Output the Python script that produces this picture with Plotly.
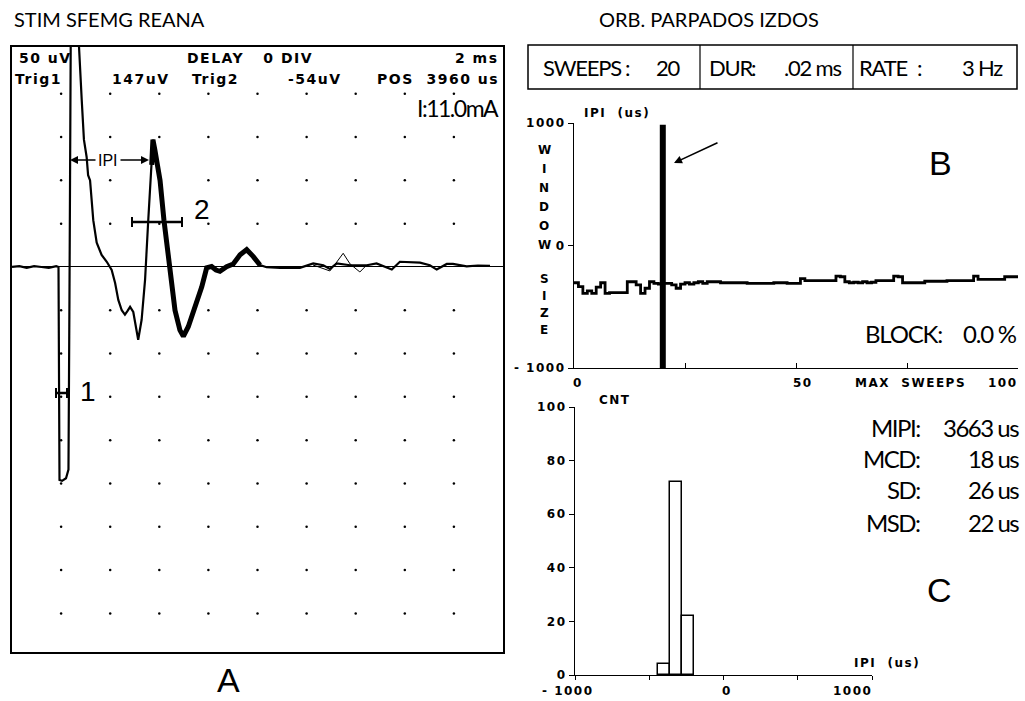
import plotly.graph_objects as go

W, H = 1025, 701

# ---------------- Panel A : superimposed SFEMG sweeps ----------------
a_time_ms = [0.0, 0.3, 0.6, 0.9, 1.2, 1.5, 1.8, 1.894, 1.935, 2.04, 2.20, 2.30, 2.34, 2.36, 2.42, 2.53, 2.62,
             2.73, 2.84, 2.93, 3.04, 3.10, 3.18, 3.31, 3.45, 3.65, 3.86, 4.06, 4.20, 4.33, 4.47, 4.60,
             4.70, 4.81, 4.94, 5.08, 5.14, 5.28, 5.42, 5.55, 5.69, 5.74, 5.82, 6.03, 6.19, 6.37,
             6.50, 6.64, 6.84, 6.98, 7.18, 7.45, 7.73, 7.93, 8.13, 8.31, 8.47, 8.74, 9.01, 9.29,
             9.56, 9.83, 10.10, 10.37, 10.92, 11.73, 12.27, 12.68, 12.95, 13.23, 13.77, 14.45,
             14.85, 15.47, 15.80, 16.62, 17.02, 17.30, 17.71, 17.96, 18.52, 18.98, 19.47]
a_uv = [0, 1, -1, 1, 0, -1, 1, 0, -246, -247, -244, -234, -38, 254, 420, 500, 400,
        254, 193, 147, 127, 106, 100, 54, 28, 14, 6, -3.5, -18.5, -38, -50, -55,
        -51, -46, -52, -73, -84, -61, -15, 54, 118, 147, 135, 100, 54, 12,
        -15, -50, -73, -80, -69, -46, -23, -1, 0.6, -3.5, -5, 0.3, 3.5, 14,
        20, 12, 2.3, -0.3, -1, -1, 4, 2, -2.3, 4, 2, 2,
        4, -3, 6, 5, 2, -3, 3.5, 3.5, 0.6, 1.7, 1.2]
# single outlying sweep (thin line)
a_thin_time = [12.26, 12.95, 13.20, 13.49, 13.77, 14.17, 14.45]
a_thin_uv = [2.3, -4.6, 4.6, 15.8, 3.5, -5.8, 2.3]
# dotted graticule (2 ms/div, 50 uV/div)
grid_x_ms = [2, 4, 6, 8, 10, 12, 14, 16, 18]
grid_y_uv = [200, 150, 100, 50, -50, -100, -150, -200, -250, -300, -350, -400]

# ---------------- Panel B : window position per sweep ----------------
b_ipi_us = [-304, -335, -390, -370, -390, -340, -304, -390, -385, -385,
            -385, -385, -296, -296, -322, -390, -349, -296, -309, -315,
            -309, -309, -322, -349, -315, -304, -315, -304, -296, -309,
            -296, -296, -296, -304, -304, -304, -304, -304, -304, -309,
            -309, -309, -309, -309, -309, -304, -304, -304, -309, -309,
            -309, -270, -287, -287, -287, -287, -287, -287, -287, -250,
            -255, -296, -304, -300, -304, -296, -304, -300, -287, -287,
            -287, -287, -250, -255, -304, -304, -304, -304, -304, -292,
            -292, -292, -292, -292, -287, -287, -287, -287, -287, -287,
            -250, -276, -276, -276, -276, -276, -276, -255, -255, -255]
b_marker_sweep = 20
b_yticks = [-1000, 0, 1000]
b_ylabels = ["- 1000", "0", "1000"]
b_xticks = [0, 25, 50, 75, 100]

# ---------------- Panel C : IPI histogram ----------------
c_bin_center_us = [-400, -320, -240]
c_count = [4, 72, 22]
c_bin_width_us = 80
c_yticks = [0, 20, 40, 60, 80, 100]
c_xticks = [-1000, -500, 0, 500, 1000]


def px(x):
    return x / W


def py(y):
    return 1 - y / H


NARROW = "Lato, Roboto, sans-serif"
PIXEL = "DejaVu Sans"
SANS = "Liberation Sans, Arial, sans-serif"


def sp(s, ls):
    return '<span style="letter-spacing:%.1fpx">%s</span>' % (ls, s)


fig = go.Figure()

# Panel A traces
fig.add_trace(go.Scatter(x=[gx for gx in grid_x_ms for _ in grid_y_uv],
                         y=[gy for _ in grid_x_ms for gy in grid_y_uv],
                         mode="markers", marker=dict(size=2.5, color="black"),
                         xaxis="x", yaxis="y", hoverinfo="skip"))
fig.add_trace(go.Scatter(x=a_time_ms, y=a_uv, mode="lines",
                         line=dict(color="black", width=2.2), xaxis="x", yaxis="y"))
fig.add_trace(go.Scatter(x=a_time_ms[40:63], y=a_uv[40:63], mode="lines",
                         line=dict(color="black", width=5), xaxis="x", yaxis="y"))
fig.add_trace(go.Scatter(x=a_thin_time, y=a_thin_uv, mode="lines",
                         line=dict(color="black", width=1), xaxis="x", yaxis="y"))

# Panel B traces
fig.add_trace(go.Scatter(x=list(range(len(b_ipi_us) + 1)), y=b_ipi_us + [b_ipi_us[-1]],
                         mode="lines", line=dict(color="black", width=2.8, shape="hv"),
                         xaxis="x2", yaxis="y2"))
fig.add_trace(go.Scatter(x=[b_marker_sweep, b_marker_sweep], y=[-1000, 985], mode="lines",
                         line=dict(color="black", width=6), xaxis="x2", yaxis="y2"))

# Panel C histogram
fig.add_trace(go.Bar(x=c_bin_center_us, y=c_count, width=c_bin_width_us,
                     marker=dict(color="white", line=dict(color="black", width=1.5)),
                     xaxis="x3", yaxis="y3"))

tickfont = dict(family=PIXEL, size=12, color="black", weight="bold")
common = dict(showgrid=False, zeroline=False, automargin=False, tickcolor="black",
              linecolor="black", showline=True)

fig.update_layout(
    width=W, height=H, margin=dict(l=0, r=0, t=0, b=0, autoexpand=False),
    paper_bgcolor="white", plot_bgcolor="white", showlegend=False,
    xaxis=dict(domain=[px(12), px(503)], range=[0, 20], showticklabels=False, ticks="",
               mirror=True, linewidth=1.5, **common),
    yaxis=dict(domain=[py(652), py(47)], range=[-444.6, 254], showgrid=False,
               zeroline=True, zerolinecolor="black", zerolinewidth=1, automargin=False,
               showticklabels=False, ticks="", showline=True, mirror=True,
               linecolor="black", linewidth=1.5),
    xaxis2=dict(domain=[px(574), px(1018)], range=[0, 100], tickvals=b_xticks,
                showticklabels=False, ticks="inside", ticklen=5, linewidth=1.2,
                anchor="y2", **common),
    yaxis2=dict(domain=[py(368), py(123)], range=[-1000, 1000], tickvals=b_yticks,
                ticktext=[sp(t, 1.5) for t in b_ylabels], ticks="outside", ticklen=5,
                linewidth=1.2, tickfont=tickfont, anchor="x2", **common),
    xaxis3=dict(domain=[px(575), px(872)], range=[-1000, 1000], tickvals=c_xticks,
                showticklabels=False, ticks="outside", ticklen=4, linewidth=1.2,
                anchor="y3", **common),
    yaxis3=dict(domain=[py(675), py(407)], range=[0, 100], tickvals=c_yticks,
                ticktext=[sp(str(t), 1.5) for t in c_yticks], ticks="outside", ticklen=5,
                linewidth=1.2, tickfont=tickfont, anchor="x3", **common),
    bargap=0,
)

shapes = []
# header table on the right
shapes.append(dict(type="rect", xref="paper", yref="paper", x0=px(528), x1=px(1017),
                   y0=py(89), y1=py(45), line=dict(color="black", width=1.5)))
for xd in (700, 853):
    shapes.append(dict(type="line", xref="paper", yref="paper", x0=px(xd), x1=px(xd),
                       y0=py(89), y1=py(45), line=dict(color="black", width=1.2)))


# "1" and "2" latency markers in panel A (horizontal bars with end ticks)
def hbar(x0, x1, yc):
    out = [dict(type="line", xref="paper", yref="paper", x0=px(x0), x1=px(x1), y0=py(yc), y1=py(yc),
                line=dict(color="black", width=2.5))]
    for xx in (x0, x1):
        out.append(dict(type="line", xref="paper", yref="paper", x0=px(xx), x1=px(xx),
                        y0=py(yc - 5), y1=py(yc + 5), line=dict(color="black", width=2)))
    return out


shapes += hbar(56, 67, 393)
shapes += hbar(132, 182, 222)
fig.update_layout(shapes=shapes)

ann = []


def T(x, y, text, size, family, anchor="left", weight="normal", yanchor="middle"):
    ann.append(dict(x=px(x), y=py(y), xref="paper", yref="paper", text=text, showarrow=False,
                    xanchor=anchor, yanchor=yanchor,
                    font=dict(size=size, family=family, color="black", weight=weight)))


def arrow(hx, hy, tx, ty):
    ann.append(dict(x=px(hx), y=py(hy), ax=tx - hx, ay=ty - hy, xref="paper", yref="paper",
                    axref="pixel", ayref="pixel", text="", showarrow=True, arrowhead=2,
                    arrowsize=1, arrowwidth=1.6, arrowcolor="black"))


def P(x, y, text, anchor="left", size=14, ls=1.5):
    T(x, y, sp(text, ls), size, PIXEL, anchor=anchor, weight="bold")


def N(x, y, text, anchor="left", size=22, ls=-1.2):
    T(x, y, sp(text, ls), size, NARROW, anchor=anchor)


N(12, 19, "STIM SFEMG REANA", size=20, ls=0)
N(709, 19, "ORB. PARPADOS IZDOS", anchor="center", size=20, ls=0)

# Panel A header
P(17, 58, "50 uV")
P(250, 58, "DELAY   0 DIV", anchor="center")
P(501, 58, "2 ms", anchor="right")
P(13, 79, "Trig1")
P(110, 79, "147uV")
P(190, 79, "Trig2")
P(286, 79, "-54uV")
P(501, 79, "POS  3960 us", anchor="right")
N(501, 108, "I:11.0mA", anchor="right", size=23, ls=-1.5)

T(108, 160, "IPI", 16, SANS, anchor="center")
T(88, 391, "1", 28, SANS, anchor="center")
T(202, 209, "2", 28, SANS, anchor="center")
T(228, 701, "A", 34, SANS, anchor="center", yanchor="bottom")

# IPI arrows
arrow(70, 160, 97, 160)
arrow(149, 160, 119, 160)

# header table text
N(541, 67, "SWEEPS")
N(628, 67, ":", anchor="center", ls=0)
N(683, 67, "20", anchor="right")
N(707, 67, "DUR")
N(754, 67, ":", anchor="center", ls=0)
N(843, 67, ".02 ms", anchor="right")
N(857, 67, "RATE")
N(920, 67, ":", anchor="center", ls=0)
N(1005, 67, "3 Hz", anchor="right")

# Panel B labels
P(582, 113, "IPI  (us)", size=12)
for ch, yy in zip("WINDOW", [150, 169, 188, 207, 226, 245]):
    P(544, yy, ch, anchor="center", size=12, ls=0)
for ch, yy in zip("SIZE", [279, 296, 313, 330]):
    P(544, yy, ch, anchor="center", size=12, ls=0)
P(577, 383, "0", anchor="center", size=12, ls=0)
P(803, 383, "50", anchor="center", size=12)
P(853, 383, "MAX  SWEEPS", size=12)
P(1020, 383, "100", anchor="right", size=12)
N(863, 333, "BLOCK:", size=24)
N(1019, 333, "0.0 %", anchor="right", size=24)
T(940, 163, "B", 34, SANS, anchor="center")
arrow(674, 163, 719, 142)

# Panel C labels
P(597, 400, "CNT", size=12)
P(887, 663, "IPI  (us)", anchor="center", size=12)
P(568, 691, "- 1000", anchor="center", size=12)
P(726, 691, "0", anchor="center", size=12, ls=0)
P(874, 691, "1000", anchor="right", size=12)
for lab, val, yy in [("MIPI:", "3663 us", 427), ("MCD:", "18 us", 458),
                     ("SD:", "26 us", 490), ("MSD:", "22 us", 522)]:
    N(922, yy, lab, anchor="right", size=24, ls=-1.5)
    N(1021, yy, val, anchor="right", size=24, ls=-1.5)
T(939, 590, "C", 34, SANS, anchor="center")

fig.update_layout(annotations=ann)
fig.write_html("out.html", config={"displayModeBar": False},
               post_script="document.body.style.margin='0px';")
